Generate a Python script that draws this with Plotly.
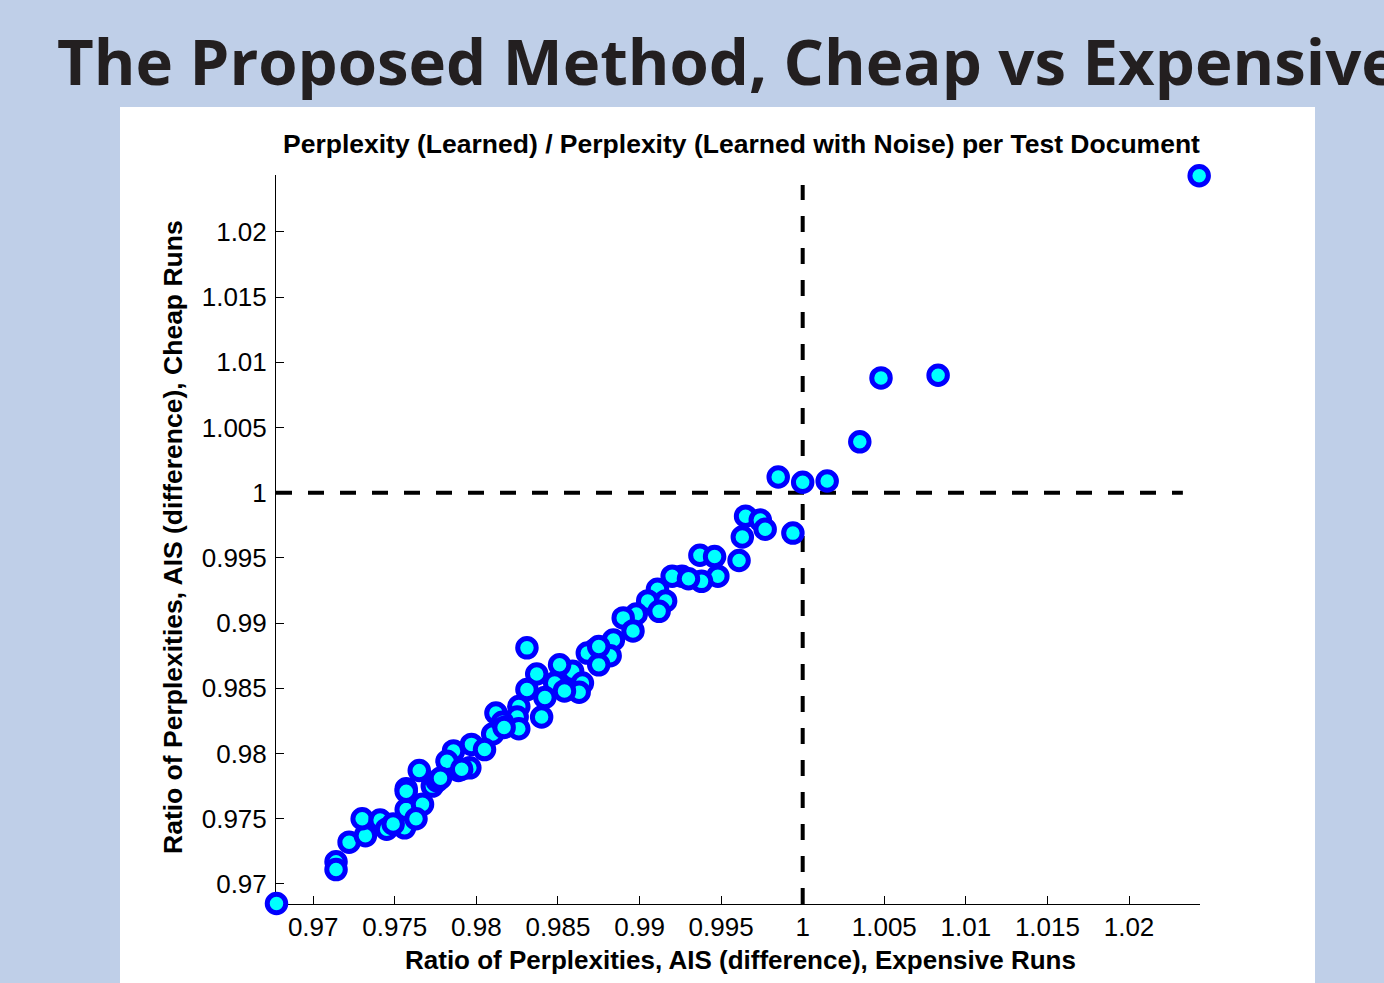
import plotly.graph_objects as go

# Data
x_expensive = [
    1.0243, 1.0048, 1.0083, 1.0035, 0.9985, 1.0000, 1.0015, 0.9994,
    0.9965, 0.9974, 0.9977, 0.9963, 0.9961, 0.9937, 0.9946, 0.9948,
    0.9938, 0.9926, 0.9920, 0.9911, 0.9905, 0.9916, 0.9912, 0.9898,
    0.9890, 0.9896, 0.9884, 0.9873, 0.9882, 0.9868, 0.9875, 0.9859,
    0.9851, 0.9865, 0.9863, 0.9848, 0.9854, 0.9837, 0.9831, 0.9842,
    0.9840, 0.9826, 0.9825, 0.9812, 0.9810, 0.9826, 0.9816, 0.9831,
    0.9797, 0.9786, 0.9805, 0.9789, 0.9796, 0.9765, 0.9773, 0.9757,
    0.9776, 0.9782, 0.9714, 0.9714, 0.9722, 0.9732, 0.9730, 0.9741,
    0.9745, 0.9756, 0.9757, 0.9767, 0.9757, 0.9763, 0.9778, 0.9791,
    0.9817, 0.9875, 0.9930, 0.9749, 0.96775,
]
y_cheap = [
    1.0243, 1.0088, 1.0090, 1.0039, 1.0012, 1.0008, 1.0009, 0.9969,
    0.9982, 0.9979, 0.9972, 0.9966, 0.9948, 0.9952, 0.9951, 0.9936,
    0.9932, 0.9936, 0.9936, 0.9926, 0.9917, 0.9917, 0.9909, 0.9907,
    0.9904, 0.9894, 0.9887, 0.9880, 0.9875, 0.9877, 0.9868, 0.9863,
    0.9868, 0.9854, 0.9847, 0.9854, 0.9848, 0.9861, 0.9849, 0.9843,
    0.9828, 0.9836, 0.9828, 0.9831, 0.9815, 0.9819, 0.9824, 0.9881,
    0.9807, 0.9802, 0.9803, 0.9787, 0.9789, 0.9787, 0.9775, 0.9773,
    0.9779, 0.9794, 0.9717, 0.9711, 0.9732, 0.9737, 0.9750, 0.9749,
    0.9742, 0.9743, 0.9757, 0.9761, 0.9771, 0.9750, 0.9781, 0.9788,
    0.9820, 0.9882, 0.9934, 0.9746, 0.96850,
]

tick_vals = [0.97, 0.975, 0.98, 0.985, 0.99, 0.995, 1.0, 1.005, 1.01, 1.015, 1.02]
tick_text = ["0.97", "0.975", "0.98", "0.985", "0.99", "0.995", "1", "1.005", "1.01", "1.015", "1.02"]

x_range = [0.96772, 1.02435]
y_range = [0.96846, 1.02436]
ref_value = 1.0

main_title = "The Proposed Method, Cheap vs Expensive"
sub_title = "Perplexity (Learned) / Perplexity (Learned with Noise) per Test Document"
x_title = "Ratio of Perplexities, AIS (difference), Expensive Runs"
y_title = "Ratio of Perplexities, AIS (difference), Cheap Runs"

W, H = 1384, 983
ML, MR, MT, MB = 276, 184, 175, 79
PW, PH = W - ML - MR, H - MT - MB


def px_x(p):
    return (p - ML) / PW


def px_y(p):
    return (H - MB - p) / PH


fig = go.Figure()
fig.add_trace(go.Scatter(
    x=x_expensive, y=y_cheap, mode="markers", cliponaxis=False,
    marker=dict(size=18.5, color="#00ffff", line=dict(color="#0000ff", width=5)),
    showlegend=False, hoverinfo="x+y",
))

BLUE_BG = "#bfcfe8"
fig.update_layout(
    width=W, height=H,
    paper_bgcolor=BLUE_BG, plot_bgcolor="white",
    margin=dict(l=ML, r=MR, t=MT, b=MB, pad=0),
    font=dict(family="Liberation Sans, Arial, sans-serif", color="black"),
    shapes=[
        dict(type="rect", xref="paper", yref="paper", layer="below",
             x0=px_x(120), x1=px_x(1315), y0=px_y(990), y1=px_y(107),
             fillcolor="white", line=dict(width=0)),
        dict(type="line", xref="x", yref="y", layer="between",
             x0=x_range[0], x1=1.0233, y0=ref_value, y1=ref_value,
             line=dict(color="black", width=4, dash="16px,16px")),
        dict(type="line", xref="x", yref="y", layer="between",
             x0=ref_value, x1=ref_value, y0=y_range[0], y1=1.0236,
             line=dict(color="black", width=4, dash="16px,16px")),
    ],
    annotations=[
        dict(text=main_title, xref="paper", yref="paper", x=px_x(55), y=px_y(60),
             xanchor="left", yanchor="middle", showarrow=False,
             font=dict(family="Open Sans, Lato, sans-serif", size=63.5, color="#231f20", weight="bold")),
        dict(text="<b>" + sub_title + "</b>", xref="paper", yref="paper", x=px_x(741), y=px_y(144),
             xanchor="center", yanchor="middle", showarrow=False,
             font=dict(size=26.5, color="black")),
        dict(text="<b>" + x_title + "</b>", xref="paper", yref="paper", x=px_x(740), y=px_y(960),
             xanchor="center", yanchor="middle", showarrow=False,
             font=dict(size=26, color="black")),
        dict(text="<b>" + y_title + "</b>", xref="paper", yref="paper", x=px_x(173), y=px_y(537),
             xanchor="center", yanchor="middle", showarrow=False, textangle=-90,
             font=dict(size=26.5, color="black")),
    ],
    xaxis=dict(
        range=x_range, showline=True, linecolor="black", linewidth=1,
        ticks="inside", ticklen=8, tickcolor="black", tickwidth=1,
        tickvals=tick_vals, ticktext=tick_text, showgrid=False, zeroline=False,
        tickfont=dict(size=26), mirror=False, layer="below traces",
    ),
    yaxis=dict(
        range=y_range, showline=True, linecolor="black", linewidth=1,
        ticks="inside", ticklen=8, tickcolor="black", tickwidth=1,
        tickvals=tick_vals, ticktext=tick_text, showgrid=False, zeroline=False,
        tickfont=dict(size=26), mirror=False, layer="below traces",
        ticklabelstandoff=3,
    ),
)

fig.write_html(
    "out.html",
    config={"displayModeBar": False},
    post_script="document.body.style.margin='0';document.body.style.overflow='hidden';",
)
